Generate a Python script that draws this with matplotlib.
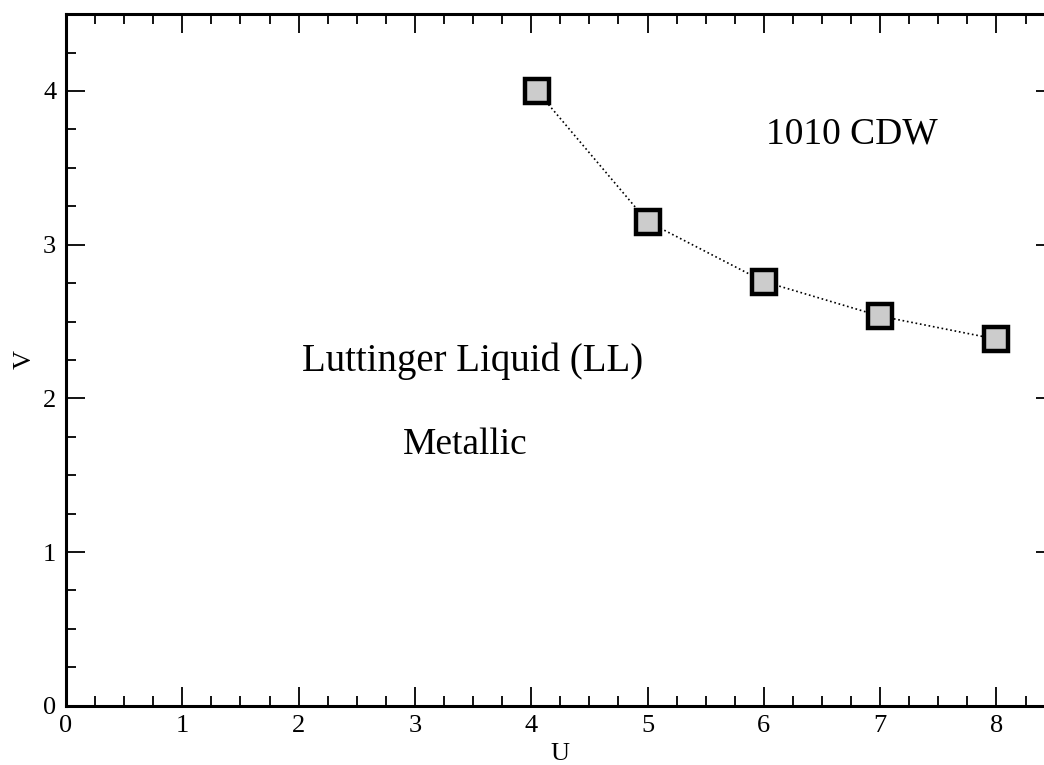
import matplotlib
matplotlib.use("Agg")
import matplotlib.pyplot as plt
from matplotlib.ticker import MultipleLocator

# phase boundary points
U_vals = [4.05, 5.0, 6.0, 7.0, 8.0]
V_vals = [4.0, 3.15, 2.76, 2.535, 2.385]

plt.rcParams["font.family"] = ["Liberation Serif", "DejaVu Serif"]

fig = plt.figure(figsize=(10.44, 7.65), dpi=100)
ax = fig.add_axes([0.0632, 0.0775, 0.947, 0.904])

ax.plot(U_vals, V_vals, color="black", linestyle=":", linewidth=1.2,
        marker="s", markersize=17, markerfacecolor="#cccccc",
        markeredgecolor="black", markeredgewidth=3.2)

ax.set_xlim(0, 8.5)
ax.set_ylim(0, 4.5)
ax.xaxis.set_major_locator(MultipleLocator(1))
ax.xaxis.set_minor_locator(MultipleLocator(0.25))
ax.yaxis.set_major_locator(MultipleLocator(1))
ax.yaxis.set_minor_locator(MultipleLocator(0.25))
ax.tick_params(which="both", direction="in", top=True, right=True,
               width=1.3, labelsize=19)
ax.tick_params(which="major", length=14)
ax.tick_params(which="minor", length=7)
ax.tick_params(axis="x", pad=7)
ax.tick_params(axis="y", pad=7)
for sp in ax.spines.values():
    sp.set_linewidth(2.2)

ax.set_xlabel("U", fontsize=19, labelpad=4)
ax.set_ylabel("V", fontsize=19, labelpad=5)

ax.text(6.76, 3.72, "1010 CDW", fontsize=27, ha="center", va="center")
ax.text(3.5, 2.24, "Luttinger Liquid (LL)", fontsize=28, ha="center", va="center")
ax.text(3.43, 1.70, "Metallic", fontsize=27, ha="center", va="center")

fig.savefig("out.png", dpi=100)
